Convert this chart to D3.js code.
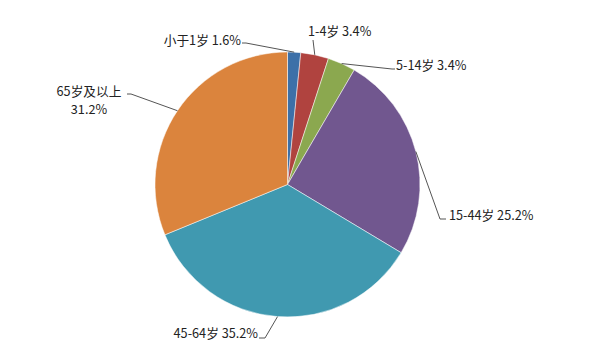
<!DOCTYPE html>
<html><head><meta charset="utf-8">
<script src="https://cdn.jsdelivr.net/npm/d3@7"></script>
<style>body{margin:0;background:#fff}svg{display:block}text{font-family:"Noto Sans CJK SC","Microsoft YaHei",sans-serif;font-size:12.7px;fill:#222}</style>
</head><body>
<svg id="c" width="592" height="357"></svg>
<script>
const categories = ["小于1岁","1-4岁","5-14岁","15-44岁","45-64岁","65岁及以上"];
const values = [1.6, 3.4, 3.4, 25.2, 35.2, 31.2];
const valueLabels = ["1.6%","3.4%","3.4%","25.2%","35.2%","31.2%"];
const colors = ["#3D70A8","#B0433F","#8BA84F","#71578F","#4099B0","#DB843D"];

// layout: label anchors and leader elbow points
const labelLayout = [
  {lines:[categories[0]+" "+valueLabels[0]], x:241, y:45, anchor:"end", elbow:[[246,43],[242,43]]},
  {lines:[categories[1]+" "+valueLabels[1]], x:308, y:36, anchor:"start", elbow:[[313,40]]},
  {lines:[categories[2]+" "+valueLabels[2]], x:396, y:70, anchor:"start", elbow:[[392,69],[395,69]]},
  {lines:[categories[3]+" "+valueLabels[3]], x:449, y:220, anchor:"start", elbow:[[440,219],[446,219]]},
  {lines:[categories[4]+" "+valueLabels[4]], x:258, y:338, anchor:"end", elbow:[[265,338],[259,338]]},
  {lines:[categories[5], valueLabels[5]], x:89, y:96, anchor:"middle", elbow:[[131,94],[127,94]]}
];

const cx = 287.5, cy = 184.5, r = 132.5;
const svg = d3.select("#c");
const g = svg.append("g").attr("transform", `translate(${cx},${cy})`);
const data = categories.map((c,i)=>({cat:c, v:values[i], i}));
const pie = d3.pie().value(d=>d.v).sort(null);
const arc = d3.arc().innerRadius(0).outerRadius(r);
const arcs = pie(data);

g.selectAll("path.s").data(arcs).enter().append("path")
  .attr("d", arc)
  .attr("fill", d=>colors[d.data.i])
  .attr("stroke", "#fff").attr("stroke-width", 0.5);

arcs.forEach((a,i)=>{
  const m = (a.startAngle + a.endAngle)/2;
  const p = [cx + r*Math.sin(m), cy - r*Math.cos(m)];
  const L = labelLayout[i];
  const pts = [p, ...L.elbow];
  svg.append("path")
    .attr("d", d3.line()(pts))
    .attr("fill","none").attr("stroke","#555").attr("stroke-width",1);
  L.lines.forEach((ln,k)=>{
    svg.append("text").attr("x", L.x).attr("y", L.y + k*18)
      .attr("text-anchor", L.anchor).text(ln);
  });
});
</script>
</body></html>
